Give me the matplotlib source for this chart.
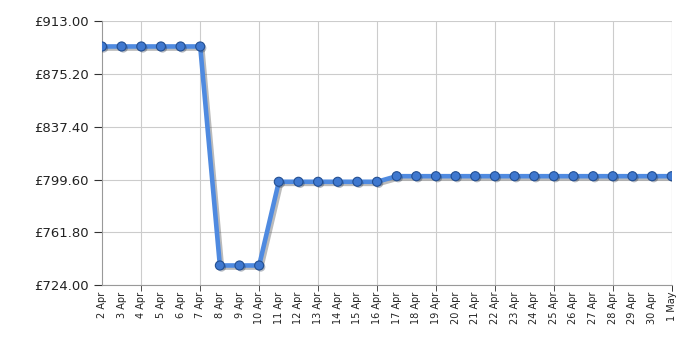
import datetime as dt

import numpy as np
import matplotlib
matplotlib.use('Agg')
import matplotlib.pyplot as plt
import matplotlib.dates as mdates
import matplotlib.patheffects as pe

# daily prices, 2 Apr -> 1 May
start = dt.date(2024, 4, 2)
prices = [895.00, 895.00, 895.00, 895.00, 895.00, 895.00,
          738.00, 738.00, 738.00,
          798.00, 798.00, 798.00, 798.00, 798.00, 798.00,
          802.00, 802.00, 802.00, 802.00, 802.00, 802.00, 802.00, 802.00,
          802.00, 802.00, 802.00, 802.00, 802.00, 802.00, 802.00]
dates = [start + dt.timedelta(days=i) for i in range(len(prices))]
y_ticks = [724.00, 761.80, 799.60, 837.40, 875.20, 913.00]

fig = plt.figure(figsize=(7, 3.5), dpi=100)
ax = fig.add_axes([0.1457, 0.1857, 0.8139, 0.7533])

line_fx = [pe.SimpleLineShadow(offset=(1.5, -1.5), shadow_color='#555555', alpha=0.4), pe.Normal()]
ax.plot(dates, prices, color='#4f8ae0', lw=3.3, zorder=3, path_effects=line_fx)
ax.plot(dates, prices, ls='none', marker='o', ms=6.5, mfc='#3f78cf', mec='#234f92', mew=0.8,
        zorder=4, path_effects=[pe.SimplePatchShadow(offset=(1.2, -1.2), alpha=0.3), pe.Normal()])

ax.set_ylim(y_ticks[0], y_ticks[-1])
ax.set_yticks(y_ticks)
ax.set_yticklabels(['£%.2f' % v for v in y_ticks], fontsize=9.5, color='#222222')

# every day labelled; grid + tick marks every third day
ax.set_xlim(mdates.date2num(dates[0]), mdates.date2num(dates[-1]))
grid_days = [d for d in dates if (d - dates[0]).days % 3 == 2] + [dates[-1]]
ax.xaxis.remove_overlapping_locs = False
ax.set_xticks(mdates.date2num(dates))
ax.set_xticklabels(['%d %s' % (d.day, d.strftime('%b')) for d in dates],
                   rotation=90, fontsize=7, color='#222222')
ax.set_xticks(mdates.date2num(grid_days), minor=True)
ax.tick_params(axis='x', which='major', length=0, pad=5)
ax.tick_params(axis='x', which='minor', length=4, color='#333333')
ax.tick_params(axis='y', length=6, color='#333333')

ax.grid(True, axis='y', which='major', color='#cccccc', lw=0.8)
ax.grid(True, axis='x', which='minor', color='#cccccc', lw=0.8)
ax.set_axisbelow(True)
for s in ['top', 'right']:
    ax.spines[s].set_visible(False)
for s in ['left', 'bottom']:
    ax.spines[s].set_color('#999999')

fig.savefig('out.png', dpi=100)
